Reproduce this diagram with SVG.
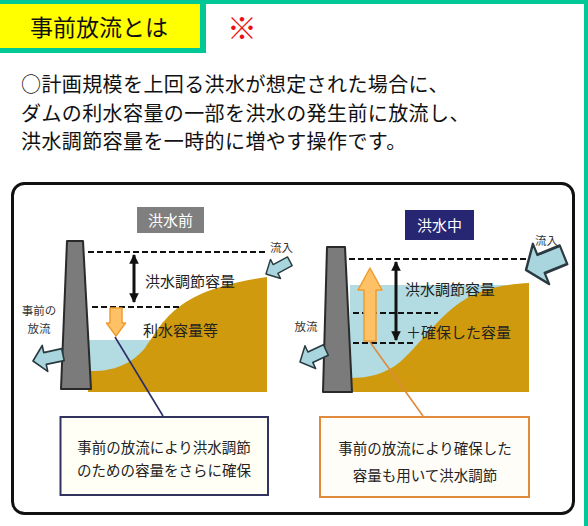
<svg xmlns="http://www.w3.org/2000/svg" width="588" height="526" viewBox="0 0 588 526">
  <defs>
    <style>
      text { font-family: "Noto Sans CJK JP", "Noto Sans", sans-serif; }
      .body { font-size: 20px; fill: #111; letter-spacing: 0.4px; }
      .lbl { font-size: 15px; fill: #222; }
      .sm { font-size: 11.5px; fill: #333; }
      .call { font-size: 14.5px; fill: #222; text-anchor: middle; }
      .dash { stroke: #111; stroke-width: 2; stroke-dasharray: 6 3; fill: none; }
      .dam { fill: #7b7b7b; stroke: #2a2a2a; stroke-width: 2; stroke-linejoin: round; }
      .water { fill: #b2dbe2; }
      .ground { fill: #cf9a0e; }
      .flow { fill: #a9d6de; stroke: #2a3a40; stroke-width: 1.6; stroke-linejoin: round; }
      .orange { fill: #ffc166; stroke: #ef9d2e; stroke-width: 1.5; stroke-linejoin: round; }
      .blk { stroke: #111; stroke-width: 3; fill: none; }
    </style>
    <!-- block arrow: tip at origin, body extends along +x -->
    <path id="flowArrow" d="M0,0 L12,-12 L12,-5.5 L30,-5.5 L30,5.5 L12,5.5 L12,12 Z"/>
    <marker id="ah" viewBox="0 0 10 10" refX="9" refY="5" markerWidth="3.2" markerHeight="3.6" orient="auto-start-reverse">
      <path d="M0,0 L10,5 L0,10 Z" fill="#111"/>
    </marker>
  </defs>

  <!-- page background and border -->
  <rect width="588" height="526" fill="#ffffff"/>
  <rect x="0" y="0" width="588" height="4" fill="#00c896"/>
  <rect x="584" y="0" width="4" height="526" fill="#00c896"/>

  <!-- title tab -->
  <g id="title">
    <rect x="0" y="0" width="206" height="53" fill="#00c896"/>
    <rect x="0" y="4" width="200" height="44" fill="#ffff00"/>
    <text x="30" y="35.5" font-size="23" fill="#111">事前放流とは</text>
    <text x="227" y="38.5" font-size="30" fill="#ee1111">※</text>
  </g>

  <!-- description -->
  <g id="description">
    <text class="body" x="21" y="92">○計画規模を上回る洪水が想定された場合に、</text>
    <text class="body" x="21" y="120.5">ダムの利水容量の一部を洪水の発生前に放流し、</text>
    <text class="body" x="21" y="148.5">洪水調節容量を一時的に増やす操作です。</text>
  </g>

  <!-- outer frame -->
  <rect x="12.5" y="183.5" width="561" height="330" rx="12" fill="#ffffff" stroke="#111" stroke-width="3"/>

  <!-- before flood -->
  <g id="before-flood">
    <rect x="137" y="207" width="67" height="26" fill="#7f7f7f"/>
    <text x="170.5" y="225.5" font-size="15" fill="#ffffff" text-anchor="middle">洪水前</text>

    <rect class="water" x="88" y="340" width="90" height="45"/>
    <path class="ground" d="M88,392 L88,371 C110,372 130,366 145,348 C165,320 175,290 267,277 L267,392 Z"/>
    <path class="dam" d="M67,241 L83,241 L91,389 L61,389 Z"/>

    <line class="dash" x1="88" y1="252" x2="267" y2="252"/>
    <line class="dash" x1="92" y1="307" x2="182" y2="307"/>
    <line class="blk" x1="134" y1="255" x2="134" y2="302" marker-start="url(#ah)" marker-end="url(#ah)"/>

    <path class="orange" d="M110,308 L122,308 L122,323 L125.5,323 L116,336 L106.5,323 L110,323 Z"/>

    <text class="lbl" x="145" y="286.5">洪水調節容量</text>
    <text class="lbl" x="143" y="335.5">利水容量等</text>

    <text class="sm" x="270" y="251.5" font-size="12">流入</text>
    <use href="#flowArrow" class="flow" transform="translate(266,274) rotate(-28) scale(0.9)"/>

    <text class="sm" x="39" y="314.5" text-anchor="middle">事前の</text>
    <text class="sm" x="39" y="332.5" text-anchor="middle">放流</text>
    <use href="#flowArrow" class="flow" transform="translate(33,361) rotate(-12) scale(1.02,1.1)"/>
  </g>

  <!-- during flood -->
  <g id="during-flood">
    <rect x="405" y="210" width="69" height="30" fill="#262673"/>
    <text x="439.5" y="230.5" font-size="15" fill="#ffffff" text-anchor="middle">洪水中</text>

    <rect class="water" x="350" y="285" width="179" height="100"/>
    <path class="ground" d="M350,392 L350,378 C370,378 385,374 400,362 C425,340 445,305 480,292 C500,285 515,284 529,283 L529,392 Z"/>
    <path class="dam" d="M327,247 L345,247 L352,392 L323,392 Z"/>

    <line class="dash" x1="349" y1="259" x2="562" y2="259"/>
    <line class="dash" x1="353" y1="313" x2="438" y2="313"/>
    <line class="dash" x1="353" y1="343" x2="413" y2="343"/>
    <line class="blk" x1="396" y1="262" x2="396" y2="340" marker-start="url(#ah)" marker-end="url(#ah)"/>

    <path class="orange" d="M370,268 L382,290 L376,290 L376,341 L364,341 L364,290 L358,290 Z"/>

    <text class="lbl" x="405" y="294.5">洪水調節容量</text>
    <text class="lbl" x="406" y="337.5">＋確保した容量</text>

    <text class="sm" x="535" y="245" font-size="11">流入</text>
    <use href="#flowArrow" class="flow" transform="translate(526,270) rotate(-22) scale(1.35,1.8)"/>

    <text class="sm" x="306" y="331" text-anchor="middle">放流</text>
    <use href="#flowArrow" class="flow" transform="translate(300,362) rotate(-25) scale(0.95,1.05)"/>
  </g>

  <!-- callout boxes -->
  <g id="note-before">
    <rect x="60.5" y="417" width="207.5" height="78" fill="#fffff6" stroke="#333360" stroke-width="2"/>
    <text class="call" x="164" y="452.5">事前の放流により洪水調節</text>
    <text class="call" x="164" y="475.5">のための容量をさらに確保</text>
  </g>
  <g id="note-during">
    <rect x="320" y="417" width="209" height="80" fill="#fffdf8" stroke="#e08a3c" stroke-width="2"/>
    <text class="call" x="425" y="454">事前の放流により確保した</text>
    <text class="call" x="425" y="480.5">容量も用いて洪水調節</text>
  </g>

  <!-- connectors -->
  <g id="connectors">
    <line x1="115" y1="337" x2="163" y2="416" stroke="#2c2c6a" stroke-width="1.6"/>
    <line x1="370" y1="342" x2="423" y2="416" stroke="#e08a3c" stroke-width="1.6"/>
  </g>
</svg>
